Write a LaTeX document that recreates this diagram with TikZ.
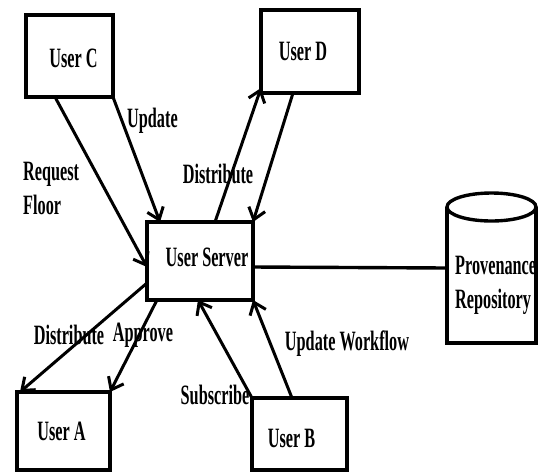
\documentclass[tikz,border=0pt]{standalone}
\usepackage{fontspec}
\setmainfont[FakeStretch=0.58]{Liberation Serif}
\usetikzlibrary{arrows.meta}
\begin{document}
\begin{tikzpicture}[x=1pt,y=-1pt,
  box/.style={draw, line width=4pt, inner sep=0pt, outer sep=0pt},
  lbl/.style={font=\fontsize{28}{34}\selectfont\bfseries, inner sep=0pt},
  conn/.style={line width=3pt, -{Straight Barb[length=11pt,width=17pt,line width=3pt]}},
  plain/.style={line width=3.4pt}]
\useasboundingbox (0,0) rectangle (545,472);
% boxes
\node[box, minimum width=87pt, minimum height=82pt, label={[lbl,xshift=4pt,yshift=-2pt]center:User C}] (C) at (69.5,56) {};
\node[box, minimum width=98pt, minimum height=83pt, label={[lbl,xshift=-7pt]center:User D}] (D) at (310,51.5) {};
\node[box, minimum width=106pt, minimum height=78pt, label={[lbl,xshift=7pt,yshift=4pt]center:User Server}] (S) at (200,261) {};
\node[box, minimum width=93pt, minimum height=78pt, label={[lbl,xshift=-2pt]center:User A}] (A) at (63.5,431) {};
\node[box, minimum width=95pt, minimum height=72pt, label={[lbl,xshift=-8pt,yshift=-4pt]center:User B}] (B) at (299.5,434) {};
% repository (cylinder)
\node[inner sep=0pt, outer sep=0pt, minimum width=89pt, minimum height=150pt] (R) at (491.5,268) {};
\draw[plain] ([yshift=-14pt]R.north west) -- (R.south west) -- (R.south east) -- ([yshift=-14pt]R.north east);
\draw[plain] ([yshift=-14pt]R.north) ellipse [x radius=44.5, y radius=14];
\node[lbl, anchor=west, align=left] (Rt) at ([xshift=8pt,yshift=-17pt]R.west) {Provenance\\Repository};
% connectors
\draw[conn] ([xshift=29pt]C.south west) -- ([yshift=-6pt]S.west);
\draw[conn] (C.south east) -- ([xshift=13pt]S.north west);
\draw[conn] ([xshift=68pt]S.north west) -- ([yshift=5pt]D.south west);
\draw[conn] ([xshift=32pt]D.south west) -- (S.north east);
\draw[conn] ([yshift=-22pt]S.west) -- ([xshift=3pt]A.north west);
\draw[conn] ([xshift=10pt]S.south west) -- (A.north east);
\draw[conn] (B.north west) -- ([xshift=51pt]S.south west);
\draw[conn] ([xshift=40pt]B.north west) -- (S.south east);
\draw[plain] ([yshift=-6pt]S.east) -- (R.west);
% edge labels
\node[lbl, anchor=west] (lupd) at (127,121) {Update};
\node[lbl, anchor=west, align=left] (lreq) at (23,188) {Request\\Floor};
\node[lbl] (ldis1) at (218,174) {Distribute};
\node[lbl] (ldis2) at (69,335) {Distribute};
\node[lbl] (lapp) at (143,335) {Approve};
\node[lbl] (lsub) at (215,395) {Subscribe};
\node[lbl] (lupw) at (347,344) {Update Workflow};
\end{tikzpicture}
\end{document}
